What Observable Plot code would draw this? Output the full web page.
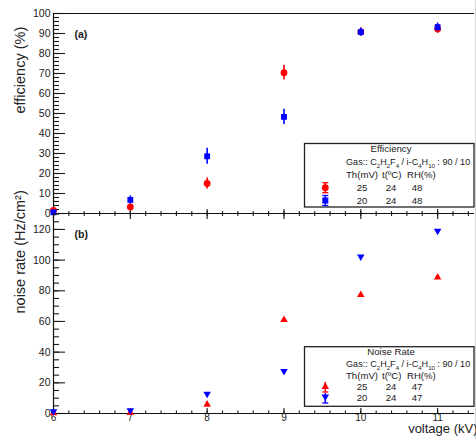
<!DOCTYPE html>
<html><head><meta charset="utf-8">
<script src="https://cdn.jsdelivr.net/npm/d3@7"></script>
<script src="https://cdn.jsdelivr.net/npm/@observablehq/plot@0.6"></script>
<style>
body{margin:0;background:#fff;}
#wrap{position:relative;width:476px;height:439px;overflow:hidden;background:#fff;font-family:"Liberation Sans",Arial,sans-serif;}
#wrap svg{position:absolute;left:0;}
#edge{position:absolute;left:475px;top:0;width:1px;height:439px;background:#d8d8d8;}
</style></head><body><div id="wrap"><div id="edge"></div></div>
<script>
// ---------- data ----------
const voltage = [6, 7, 8, 9, 10, 11];
const effTh25 = [1.6, 3.3, 15.0, 70.4, 90.8, 92.3];
const effTh25Err = [1.0, 1.4, 2.7, 3.7, 2.0, 2.2];
const effTh20 = [0.6, 6.8, 28.6, 48.3, 90.7, 93.2];
const effTh20Err = [0.8, 2.0, 4.0, 3.8, 2.0, 2.0];
const noiseTh25 = [0.2, 0.5, 5.9, 61.0, 77.4, 88.8];
const noiseTh20 = [1.3, 2.0, 12.8, 27.6, 102.2, 119.0];
const xMajor = [6, 7, 8, 9, 10, 11];
const xMinor = d3.range(6, 11.41, 0.2).map(v => +v.toFixed(1));
const effMajor = d3.range(0, 101, 10);
const effMinor = d3.range(0, 101, 2);
const noiseMajor = d3.range(0, 121, 20);
const noiseMinor = d3.range(0, 131, 5);
const legendTh = [25, 20];
const legendT = [24, 24];
const effRH = [48, 48];
const noiseRH = [47, 47];

const RED = "#ff0000", BLUE = "#0000ff";
const FONT = "Liberation Sans, Arial, Helvetica, sans-serif";
const sqrt3 = Math.sqrt(3);
const triangleDown = {draw(ctx, size) {
  const y = Math.sqrt(size / (sqrt3 * 3));
  ctx.moveTo(0, y * 2); ctx.lineTo(-sqrt3 * y, -y); ctx.lineTo(sqrt3 * y, -y); ctx.closePath();
}};

const eff25 = voltage.map((v, i) => ({v, y: effTh25[i], e: effTh25Err[i]}));
const eff20 = voltage.map((v, i) => ({v, y: effTh20[i], e: effTh20Err[i]}));
const noi25 = voltage.map((v, i) => ({v, y: noiseTh25[i]}));
const noi20 = voltage.map((v, i) => ({v, y: noiseTh20[i]}));

const wrap = document.getElementById("wrap");
const common = {
  width: 476, marginLeft: 53, marginRight: 2,
  style: {background: "transparent", overflow: "visible", fontFamily: FONT, color: "#1a1a1a"},
  x: {domain: [6, 11.48]}
};

// ---------- top panel: efficiency ----------
const topPlot = Plot.plot({
  ...common, height: 213, marginTop: 13, marginBottom: 0,
  y: {domain: [0, 100]},
  marks: [
    Plot.axisY({ticks: effMajor, tickSize: 0, tickPadding: 3, fontSize: 10.5, tickFormat: d => d, label: null}),
    Plot.axisY({ticks: effMajor, tickSize: -12, text: null, label: null, strokeWidth: 1.1}),
    Plot.axisY({ticks: effMinor, tickSize: -6, text: null, label: null, strokeWidth: 1.1}),
    Plot.axisX({ticks: xMajor, tickSize: -4, text: null, label: null, strokeWidth: 1.1}),
    Plot.axisX({ticks: xMinor, tickSize: -2, text: null, label: null, strokeWidth: 1.1}),
    Plot.ruleY([100], {stroke: "#111", strokeWidth: 1.2}),
    Plot.ruleY([0], {stroke: "#111", strokeWidth: 1.2}),
    Plot.ruleX([6], {stroke: "#111", strokeWidth: 1.2}),
    Plot.text(["efficiency (%)"], {frameAnchor: "left", dx: -33, rotate: -90, fontSize: 14.5, fill: "#222"}),
    Plot.text(["(a)"], {frameAnchor: "top-left", dx: 21, dy: 17, fontWeight: "bold", fontSize: 10.5, textAnchor: "start"}),
    Plot.ruleX(eff25, {x: "v", y1: d => d.y - d.e, y2: d => d.y + d.e, stroke: RED, strokeWidth: 1.6}),
    Plot.dot(eff25, {x: "v", y: "y", symbol: "circle", r: 3.4, fill: RED, stroke: null}),
    Plot.ruleX(eff20, {x: "v", y1: d => d.y - d.e, y2: d => d.y + d.e, stroke: BLUE, strokeWidth: 1.6}),
    Plot.dot(eff20, {x: "v", y: "y", symbol: "square", r: 3.3, fill: BLUE, stroke: null})
  ]
});
topPlot.style.top = "0px";
wrap.appendChild(topPlot);

// ---------- bottom panel: noise rate ----------
const botPlot = Plot.plot({
  ...common, height: 226, marginTop: 0, marginBottom: 26,
  y: {domain: [0, 130.4]},
  marks: [
    Plot.axisY({ticks: noiseMajor, tickSize: 0, tickPadding: 3, fontSize: 10.5, tickFormat: d => d, label: null}),
    Plot.axisY({ticks: noiseMajor, tickSize: -12, text: null, label: null, strokeWidth: 1.1}),
    Plot.axisY({ticks: noiseMinor, tickSize: -6, text: null, label: null, strokeWidth: 1.1}),
    Plot.axisX({ticks: xMajor, tickSize: 0, tickPadding: 0, fontSize: 10, tickFormat: d => d, label: null}),
    Plot.axisX({ticks: xMajor, tickSize: -5, text: null, label: null, strokeWidth: 1.1}),
    Plot.axisX({ticks: xMinor, tickSize: -2.5, text: null, label: null, strokeWidth: 1.1}),
    Plot.axisX({anchor: "top", ticks: xMajor, tickSize: -5, text: null, label: null, strokeWidth: 1.1}),
    Plot.axisX({anchor: "top", ticks: xMinor, tickSize: -2, text: null, label: null, strokeWidth: 1.1}),
    Plot.ruleY([0], {stroke: "#111", strokeWidth: 1.2}),
    Plot.ruleX([6], {stroke: "#111", strokeWidth: 1.2}),
    Plot.text(["noise rate (Hz/cm²)"], {frameAnchor: "left", dx: -33, rotate: -90, fontSize: 14.5, fill: "#222"}),
    Plot.text(["(b)"], {frameAnchor: "top-left", dx: 21, dy: 17, fontWeight: "bold", fontSize: 10.5, textAnchor: "start"}),
    Plot.text(["voltage (kV)"], {frameAnchor: "bottom-right", dx: 3, dy: 19.8, textAnchor: "end", fontSize: 13, fill: "#222"}),
    Plot.dot(noi25, {x: "v", y: "y", symbol: "triangle", r: 2.8, fill: RED, stroke: null}),
    Plot.dot(noi20, {x: "v", y: "y", symbol: triangleDown, r: 2.8, fill: BLUE, stroke: null})
  ]
});
botPlot.style.top = "213px";
wrap.appendChild(botPlot);

// ---------- legends ----------
function gasLine(t, x, y) {
  const tx = t.append("text").attr("x", x).attr("y", y).attr("font-size", 9.1);
  const parts = [["Gas:: C",0],["2",1],["H",0],["2",1],["F",0],["4",1],[" / i-C",0],["4",1],["H",0],["10",1],[" : 90 / 10",0]];
  parts.forEach(([s, sub], i) => {
    const prevSub = i > 0 && parts[i - 1][1];
    tx.append("tspan").text(s)
      .attr("font-size", sub ? 6 : 9.1)
      .attr("dy", sub && !prevSub ? 2.5 : (!sub && prevSub ? -2.5 : 0));
  });
}
function legend(topY, h, title, yTitle, yGas, yTh, yRows, rh, markers) {
  const svg = d3.select(wrap).append("svg")
    .attr("width", 476).attr("height", 439)
    .style("top", "0px").style("overflow", "visible")
    .attr("font-family", FONT).attr("font-size", 9.6).attr("fill", "#1a1a1a");
  svg.append("rect").attr("x", 304.5).attr("y", topY).attr("width", 169.5).attr("height", h)
    .attr("fill", "#fff").attr("stroke", "#222").attr("stroke-width", 1.3);
  svg.append("text").attr("x", 391).attr("y", yTitle + 3.4).attr("text-anchor", "middle").text(title);
  gasLine(svg, 346, yGas + 3.4);
  svg.append("text").attr("x", 346).attr("y", yTh + 3.4).text("Th(mV)");
  svg.append("text").attr("x", 382).attr("y", yTh + 3.4).text("t(ºC)");
  svg.append("text").attr("x", 407).attr("y", yTh + 3.4).text("RH(%)");
  yRows.forEach((yy, i) => {
    svg.append("text").attr("x", 362).attr("y", yy + 3.4).attr("text-anchor", "middle").text(legendTh[i]);
    svg.append("text").attr("x", 391).attr("y", yy + 3.4).attr("text-anchor", "middle").text(legendT[i]);
    svg.append("text").attr("x", 417).attr("y", yy + 3.4).attr("text-anchor", "middle").text(rh[i]);
    markers[i](svg, 325.3, yy);
  });
}
function bar(svg, x, y, c, top = true) {
  svg.append("line").attr("x1", x).attr("x2", x).attr("y1", y - 5).attr("y2", y + 5).attr("stroke", c).attr("stroke-width", 1.5);
  if (top) svg.append("line").attr("x1", x - 3).attr("x2", x + 3).attr("y1", y - 5).attr("y2", y - 5).attr("stroke", c).attr("stroke-width", 1.3);
  svg.append("line").attr("x1", x - 3).attr("x2", x + 3).attr("y1", y + 5).attr("y2", y + 5).attr("stroke", c).attr("stroke-width", 1.3);
}
legend(143.5, 63.5, "Efficiency", 149, 162, 174.7, [187.7, 200.5], effRH, [
  (s, x, y) => { bar(s, x, y, RED); s.append("circle").attr("cx", x).attr("cy", y).attr("r", 3.4).attr("fill", RED); },
  (s, x, y) => { bar(s, x, y, BLUE); s.append("rect").attr("x", x - 3).attr("y", y - 3).attr("width", 6).attr("height", 6).attr("fill", BLUE); }
]);
legend(346.7, 59.6, "Noise Rate", 351.5, 363.8, 375.5, [387, 398], noiseRH, [
  (s, x, y) => { bar(s, x, y, RED, false); s.append("path").attr("d", `M${x},${y - 4.5}L${x - 3.8},${y + 2}L${x + 3.8},${y + 2}Z`).attr("fill", RED); },
  (s, x, y) => { bar(s, x, y, BLUE, false); s.append("path").attr("d", `M${x},${y + 3}L${x - 3.8},${y - 3.5}L${x + 3.8},${y - 3.5}Z`).attr("fill", BLUE); }
]);
</script></body></html>
